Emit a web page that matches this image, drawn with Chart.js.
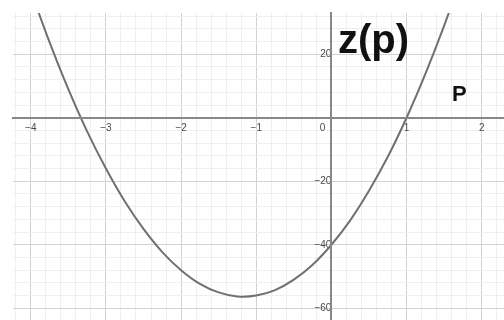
<!DOCTYPE html>
<html>
<head>
<meta charset="utf-8">
<script src="https://cdn.jsdelivr.net/npm/chart.js@4/dist/chart.umd.min.js"></script>
<style>
  html, body { margin: 0; padding: 0; background: #ffffff; }
  canvas { display: block; }
</style>
</head>
<body>
<canvas id="c" width="504" height="320"></canvas>
<script>
// ---- data ----
const P_VALUES = [-4, -3.75, -3.5, -3.25, -3, -2.75, -2.5, -2.25, -2, -1.75, -1.5, -1.25,
                  -1, -0.75, -0.5, -0.25, 0, 0.25, 0.5, 0.75, 1, 1.25, 1.5, 1.75];
const Z_VALUES = [40, 23.8, 9, -4.3, -16, -26.3, -35, -42.3, -48, -52.3, -55, -56.3,
                  -56, -54.3, -51, -46.3, -40, -32.3, -23, -12.3, 0, 13.8, 29, 45.8];
const X_TICK_LABELS = [-4, -3, -2, -1, 1, 2];
const Y_TICK_LABELS = [-60, -40, -20, 20];
const X_RANGE = [-4.236, 2.296];
const Y_RANGE = [-63.7, 33.0];
const X_TITLE = 'P';
const Y_TITLE = 'z(p)';

// ---- grid tick positions (major + minor) ----
const xGridTicks = [];
for (let i = -21; i <= 11; i++) { if (i !== 0) xGridTicks.push(+(i * 0.2).toFixed(1)); }
const yGridTicks = [];
for (let i = -15; i <= 8; i++) { if (i !== 0) yGridTicks.push(i * 4); }

const FONT = '"Liberation Sans", Arial, sans-serif';
const near = (a, b) => Math.abs(a - b) < 1e-6;
const fmt = v => (v < 0 ? '\u2212' + Math.abs(v) : String(v));

const textPlugin = {
  id: 'axisTitles',
  afterDraw(chart) {
    const ctx = chart.ctx;
    ctx.save();
    ctx.fillStyle = '#111111';
    ctx.textAlign = 'left';
    ctx.textBaseline = 'alphabetic';
    ctx.font = 'bold 40px ' + FONT;
    ctx.fillText(Y_TITLE, 338, 52.5);
    ctx.font = 'bold 22px ' + FONT;
    ctx.fillText(X_TITLE, 452, 100.5);
    ctx.restore();
  }
};

new Chart(document.getElementById('c'), {
  type: 'line',
  data: {
    datasets: [{
      data: P_VALUES.map((p, i) => ({ x: p, y: Z_VALUES[i] })),
      borderColor: '#707070',
      borderWidth: 2,
      pointRadius: 0,
      tension: 0.3,
      fill: false,
      clip: 0
    }]
  },
  options: {
    responsive: false,
    animation: false,
    layout: { padding: { left: 13, top: 13, right: 0, bottom: 0 } },
    plugins: { legend: { display: false }, tooltip: { enabled: false } },
    scales: {
      x: {
        type: 'linear',
        min: X_RANGE[0], max: X_RANGE[1],
        position: { y: 0 },
        afterBuildTicks: s => { s.ticks = xGridTicks.map(v => ({ value: v })); },
        afterFit: s => { s.paddingLeft = s.paddingRight = s.paddingTop = s.paddingBottom = 0; },
        ticks: {
          autoSkip: false, maxRotation: 0, padding: 4,
          font: { family: FONT, size: 10 }, color: '#4a4a4a',
          callback: v => (X_TICK_LABELS.some(t => near(t, v)) ? fmt(Math.round(v)) : '')
        },
        grid: {
          drawTicks: false,
          color: c => (near(c.tick.value, Math.round(c.tick.value)) ? '#d2d2d2' : '#efefef'),
          lineWidth: 1
        },
        border: { color: '#888888', width: 2, z: 1 }
      },
      xZero: {
        type: 'linear',
        axis: 'x',
        min: X_RANGE[0], max: X_RANGE[1],
        position: { y: 0 },
        afterBuildTicks: s => { s.ticks = [{ value: 0 }]; },
        afterFit: s => { s.paddingLeft = s.paddingRight = s.paddingTop = s.paddingBottom = 0; },
        ticks: {
          autoSkip: false, maxRotation: 0, padding: 4, labelOffset: -9,
          font: { family: FONT, size: 10 }, color: '#4a4a4a',
          callback: () => '0'
        },
        grid: { display: false, drawTicks: false },
        border: { display: false }
      },
      y: {
        type: 'linear',
        min: Y_RANGE[0], max: Y_RANGE[1],
        position: { x: 0 },
        afterBuildTicks: s => { s.ticks = yGridTicks.map(v => ({ value: v })); },
        afterFit: s => { s.paddingLeft = s.paddingRight = s.paddingTop = s.paddingBottom = 0; },
        ticks: {
          autoSkip: false, padding: 5,
          font: { family: FONT, size: 10 }, color: '#4a4a4a',
          callback: v => (Y_TICK_LABELS.includes(v) ? fmt(v) : '')
        },
        grid: {
          drawTicks: false,
          color: c => (c.tick.value % 20 === 0 ? '#d2d2d2' : '#efefef'),
          lineWidth: 1
        },
        border: { color: '#888888', width: 2, z: 1 }
      }
    }
  },
  plugins: [textPlugin]
});
</script>
</body>
</html>
